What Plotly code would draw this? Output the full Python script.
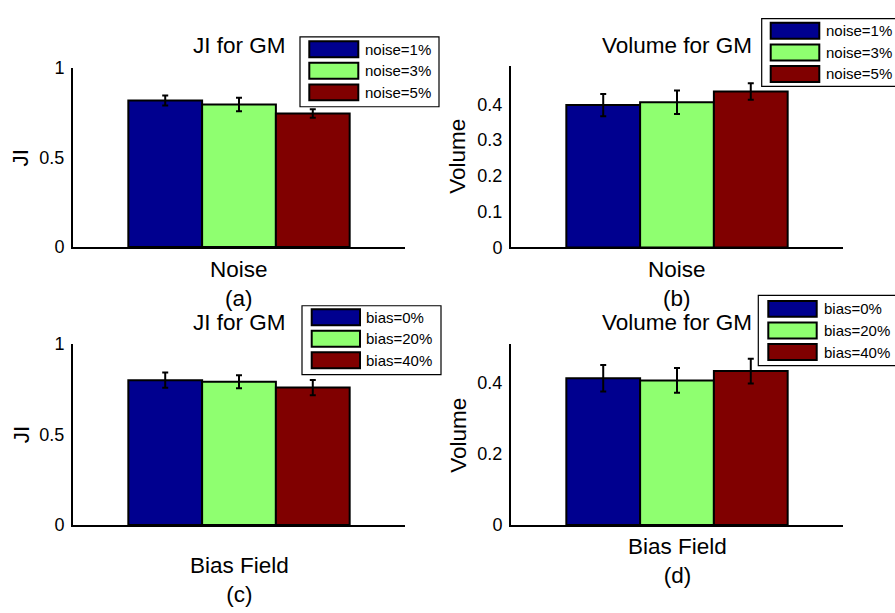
import plotly.graph_objects as go

# ---- data -------------------------------------------------------------
noise_labels = ["noise=1%", "noise=3%", "noise=5%"]
bias_labels = ["bias=0%", "bias=20%", "bias=40%"]

ji_noise = [0.818, 0.796, 0.746]
ji_noise_err = [0.028, 0.038, 0.024]
vol_noise = [0.398, 0.406, 0.436]
vol_noise_err = [0.031, 0.033, 0.023]

ji_bias = [0.799, 0.790, 0.758]
ji_bias_err = [0.042, 0.036, 0.042]
vol_bias = [0.412, 0.406, 0.432]
vol_bias_err = [0.037, 0.035, 0.035]

panel_titles = ["JI for GM", "Volume for GM", "JI for GM", "Volume for GM"]
panel_xlabels = ["Noise", "Noise", "Bias Field", "Bias Field"]
panel_tags = ["(a)", "(b)", "(c)", "(d)"]
panel_ylabels = ["JI", "Volume", "JI", "Volume"]
ji_ticks = [0, 0.5, 1]
vol_ticks_fine = [0, 0.1, 0.2, 0.3, 0.4]
vol_ticks_coarse = [0, 0.2, 0.4]

colors = ["#00008F", "#8FFF70", "#800000"]

# ---- page geometry (pixels) -------------------------------------------
W, H = 895, 613
FONT = "Liberation Sans, Arial, Helvetica, sans-serif"
LABEL_SIZE = 22.5
TICK_SIZE = 18
LEGEND_SIZE = 15


def px(x):
    return x / W


def py(y):
    return 1 - y / H


panels = [
    # values, errors, labels, yrange, ticks, axis box (l, t, r, b)
    dict(v=ji_noise, e=ji_noise_err, names=noise_labels, yr=[0, 1], ticks=ji_ticks,
         box=(73, 60, 405, 245), title_y=37, xl_y=268, yl_x=21,
         leg=dict(box=(300, 27.7, 439, 100), sx=(309.3, 358.3), top=32.3, tx=362.7)),
    dict(v=vol_noise, e=vol_noise_err, names=noise_labels, yr=[0, 0.507], ticks=vol_ticks_fine,
         box=(511, 58, 843, 245.5), title_y=37, xl_y=268, yl_x=458,
         leg=dict(box=(761.7, 9, 900, 79), sx=(770.7, 819.3), top=13.3, tx=824.3)),
    dict(v=ji_bias, e=ji_bias_err, names=bias_labels, yr=[0, 1], ticks=ji_ticks,
         box=(73, 345, 405, 532.3), title_y=323, xl_y=574, yl_x=21,
         leg=dict(box=(302, 305.7, 441, 377), sx=(311.7, 360), top=309.3, tx=364.3)),
    dict(v=vol_bias, e=vol_bias_err, names=bias_labels, yr=[0, 0.507], ticks=vol_ticks_coarse,
         box=(511, 345.7, 843, 532.3), title_y=323, xl_y=555, yl_x=459,
         leg=dict(box=(758.3, 295, 900, 367.7), sx=(768.3, 816.7), top=300.7, tx=821.7)),
]

fig = go.Figure()
annotations = []
shapes = []
layout_axes = {}

for k, p in enumerate(panels):
    n = "" if k == 0 else str(k + 1)
    xa, ya = "x" + n, "y" + n
    l, t, r, b = p["box"]
    for i, (val, err, name) in enumerate(zip(p["v"], p["e"], p["names"])):
        fig.add_trace(go.Bar(
            x=[panel_xlabels[k]], y=[val], name=name,
            xaxis=xa, yaxis=ya, offsetgroup=str(i),
            marker=dict(color=colors[i], line=dict(color="black", width=2)),
            error_y=dict(type="data", array=[err], visible=True,
                         color="black", thickness=2, width=3),
            showlegend=False,
        ))

    layout_axes["xaxis" + n] = dict(
        domain=[px(l), px(r)], anchor=ya, type="category", range=[-0.5, 0.5],
        showline=True, linecolor="black", linewidth=2, showticklabels=False,
        showgrid=False, zeroline=False, ticks="",
    )
    layout_axes["yaxis" + n] = dict(
        domain=[py(b), py(t)], anchor=xa, range=p["yr"], tickvals=p["ticks"],
        ticktext=[f"{v:g}" for v in p["ticks"]],
        showline=True, linecolor="black", linewidth=2, showgrid=False,
        zeroline=False, ticks="", ticklabelstandoff=3,
        tickfont=dict(size=TICK_SIZE, color="black", family=FONT),
    )

    cx = (l + r) / 2
    annotations.append(dict(text=panel_titles[k], x=px(cx), y=py(p["title_y"]),
                            xref="paper", yref="paper", showarrow=False,
                            xanchor="center", yanchor="middle",
                            font=dict(size=LABEL_SIZE, color="black", family=FONT)))
    annotations.append(dict(text=f"{panel_xlabels[k]}<br>{panel_tags[k]}",
                            x=px(cx), y=py(p["xl_y"] - 15), xref="paper", yref="paper",
                            showarrow=False, xanchor="center", yanchor="top",
                            font=dict(size=LABEL_SIZE, color="black", family=FONT)))
    annotations.append(dict(text=panel_ylabels[k], x=px(p["yl_x"]), y=py((t + b) / 2),
                            xref="paper", yref="paper", showarrow=False, textangle=-90,
                            xanchor="center", yanchor="middle",
                            font=dict(size=LABEL_SIZE, color="black", family=FONT)))

    # legend box with wide swatches
    lg = p["leg"]
    bx0, by0, bx1, by1 = lg["box"]
    shapes.append(dict(type="rect", xref="paper", yref="paper",
                       x0=px(bx0), x1=px(bx1), y0=py(by1), y1=py(by0),
                       fillcolor="white", line=dict(color="black", width=1.2), layer="above"))
    pitch, sh = 22.3, 16.5
    for i, name in enumerate(p["names"]):
        top = lg["top"] + i * pitch
        shapes.append(dict(type="rect", xref="paper", yref="paper",
                           x0=px(lg["sx"][0]), x1=px(lg["sx"][1]),
                           y0=py(top + sh), y1=py(top),
                           fillcolor=colors[i], line=dict(color="black", width=2),
                           layer="above"))
        annotations.append(dict(text=name, x=px(lg["tx"]), y=py(top + sh / 2),
                                xref="paper", yref="paper", showarrow=False,
                                xanchor="left", yanchor="middle",
                                font=dict(size=LEGEND_SIZE, color="black", family=FONT)))

fig.update_layout(
    width=W, height=H, margin=dict(l=0, r=0, t=0, b=0),
    paper_bgcolor="white", plot_bgcolor="white",
    barmode="group", bargap=1 / 3, bargroupgap=0,
    font=dict(family=FONT, color="black"),
    annotations=annotations, shapes=shapes, showlegend=False,
    **layout_axes,
)

fig.write_html("out.html")
